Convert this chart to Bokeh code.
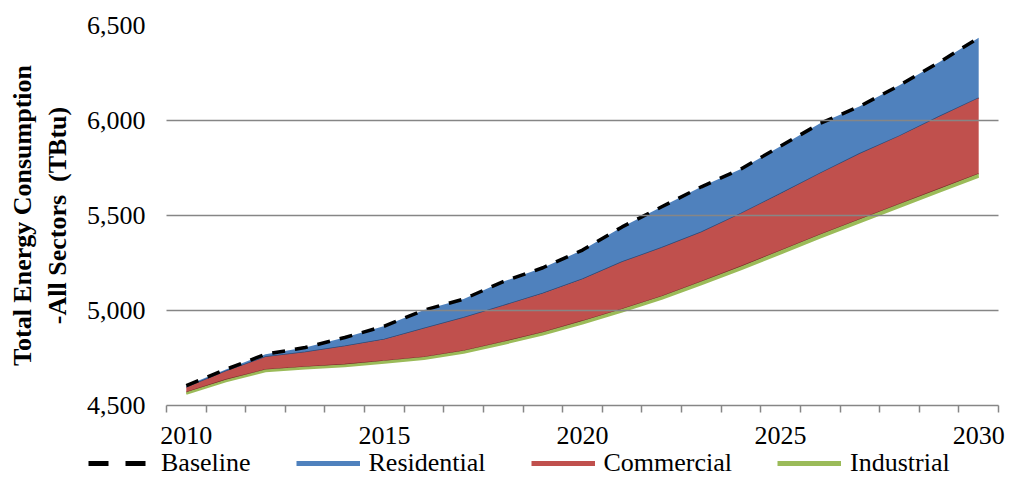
from bokeh.plotting import figure
from bokeh.layouts import column, row
from bokeh.models import (FixedTicker, Legend, LegendItem, NumeralTickFormatter,
                          Range1d, ColumnDataSource)
from bokeh.embed import file_html
from bokeh.resources import INLINE

years = list(range(2010, 2031))
baseline = [4605, 4690, 4770, 4805, 4858, 4918, 5002, 5060, 5152, 5225, 5318,
            5440, 5546, 5651, 5745, 5865, 5985, 6075, 6185, 6306, 6435]
residential = [4595, 4680, 4755, 4780, 4812, 4848, 4905, 4962, 5025, 5090, 5165,
               5255, 5330, 5412, 5510, 5615, 5722, 5825, 5918, 6020, 6118]
commercial = [4570, 4636, 4689, 4704, 4716, 4735, 4755, 4788, 4835, 4885, 4945,
              5008, 5075, 5152, 5232, 5316, 5400, 5480, 5560, 5640, 5720]
industrial = [4562, 4627, 4680, 4695, 4706, 4725, 4745, 4777, 4824, 4873, 4932,
              4995, 5061, 5138, 5217, 5300, 5384, 5464, 5544, 5624, 5704]

x_tick_labels = [2010, 2015, 2020, 2025, 2030]
y_ticks = [4500, 5000, 5500, 6000, 6500]
series_names = ["Baseline", "Residential", "Commercial", "Industrial"]

BLUE = "#4F81BD"
RED = "#C0504D"
GREEN = "#9BBB59"
GRID = "#868686"
FONT = "Liberation Serif"

src = ColumnDataSource(dict(year=years, baseline=baseline, residential=residential,
                            commercial=commercial, industrial=industrial))

p = figure(width=1010, height=448, output_backend="svg", toolbar_location=None,
           x_range=Range1d(years[0] - 0.5, years[-1] + 0.5),
           y_range=Range1d(y_ticks[0], y_ticks[-1]),
           min_border_left=166, min_border_right=12, min_border_top=25,
           min_border_bottom=43)
p.outline_line_color = None
p.background_fill_color = "white"

# areas
p.varea(x="year", y1="residential", y2="baseline", source=src, fill_color=BLUE)
p.line(x="year", y="residential", source=src, line_color="#2b4a78", line_width=1.5)
p.varea(x="year", y1="commercial", y2="residential", source=src, fill_color=RED)
p.line(x="year", y="commercial", source=src, line_color="#7d2f2c", line_width=1.2)
p.varea(x="year", y1="industrial", y2="commercial", source=src, fill_color=GREEN)
p.line(x="year", y="industrial", source=src, line_color=GREEN, line_width=2)
p.line(x="year", y="baseline", source=src, line_color="black",
       line_width=3.5, line_dash="13 10")

# axes
p.xaxis.ticker = FixedTicker(ticks=x_tick_labels,
                             minor_ticks=[y - 0.5 for y in years] + [years[-1] + 0.5])
p.xaxis.major_tick_line_color = None
p.xaxis.major_tick_out = 0
p.xaxis.major_tick_in = 0
p.xaxis.minor_tick_out = 7
p.xaxis.minor_tick_in = 0
p.xaxis.minor_tick_line_color = GRID
p.xaxis.minor_tick_line_width = 1.5
p.xaxis.axis_line_color = GRID
p.xaxis.axis_line_width = 1.5
p.xaxis.major_label_standoff = 14
p.xaxis.major_label_text_font = FONT
p.xaxis.major_label_text_font_size = "26px"
p.xaxis.major_label_text_color = "black"

p.yaxis.ticker = FixedTicker(ticks=y_ticks)
p.yaxis.formatter = NumeralTickFormatter(format="0,0")
p.yaxis.axis_line_color = None
p.yaxis.major_tick_line_color = None
p.yaxis.minor_tick_line_color = None
p.yaxis.major_tick_out = 0
p.yaxis.major_label_standoff = 21
p.yaxis.major_label_text_font = FONT
p.yaxis.major_label_text_font_size = "26px"
p.yaxis.major_label_text_color = "black"
p.yaxis.axis_label = "Total Energy Consumption\n-All Sectors \u00a0(TBtu)"
p.yaxis.axis_label_text_font = FONT
p.yaxis.axis_label_text_font_size = "26px"
p.yaxis.axis_label_text_font_style = "bold"
p.yaxis.axis_label_text_color = "black"
p.yaxis.axis_label_standoff = 12

p.xgrid.visible = False
p.ygrid.grid_line_color = GRID
p.ygrid.grid_line_width = 1.5
p.ygrid.level = "overlay"

# legend strip below the chart
lg = figure(width=1010, height=30, output_backend="svg", toolbar_location=None,
            x_range=Range1d(0, 1), y_range=Range1d(0, 1),
            min_border=0, min_border_left=0, min_border_right=0,
            min_border_top=0, min_border_bottom=0)
lg.axis.visible = False
lg.grid.visible = False
lg.outline_line_color = None
nan = float("nan")
r_base = lg.line(x=[nan], y=[nan], line_color="black", line_width=5, line_dash="20 17")
r_res = lg.line(x=[nan], y=[nan], line_color=BLUE, line_width=5)
r_com = lg.line(x=[nan], y=[nan], line_color=RED, line_width=5)
r_ind = lg.line(x=[nan], y=[nan], line_color=GREEN, line_width=5)

legend = Legend(items=[LegendItem(label=series_names[0], renderers=[r_base]),
                       LegendItem(label=series_names[1], renderers=[r_res]),
                       LegendItem(label=series_names[2], renderers=[r_com]),
                       LegendItem(label=series_names[3], renderers=[r_ind])],
                orientation="horizontal", location=(88, 0))
legend.label_text_font = FONT
legend.label_text_font_size = "26px"
legend.label_text_color = "black"
legend.label_standoff = 9
legend.glyph_width = 64
legend.glyph_height = 30
legend.label_height = 30
legend.spacing = 45
legend.padding = 0
legend.margin = 0
legend.border_line_color = None
legend.background_fill_alpha = 0
lg.add_layout(legend)

open("out.html", "w").write(file_html(column(p, row(lg), spacing=0), INLINE))
